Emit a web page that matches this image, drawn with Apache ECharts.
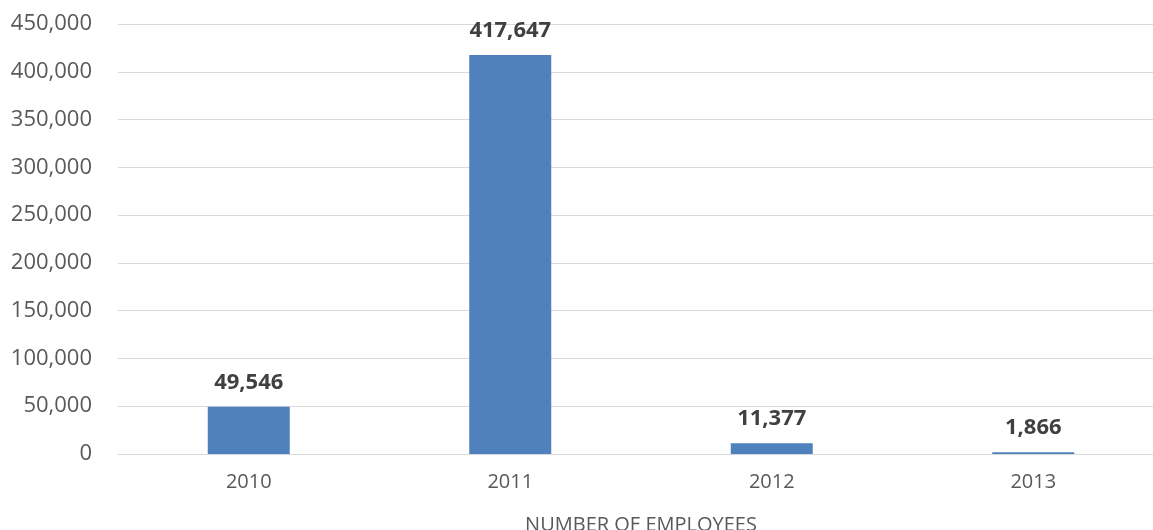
<!DOCTYPE html>
<html>
<head>
<meta charset="utf-8">
<script src="https://cdn.jsdelivr.net/npm/echarts@6/dist/echarts.min.js"></script>
<style>
  html, body { margin: 0; padding: 0; background: #fff; }
  #chart { width: 1153px; height: 530px; }
</style>
</head>
<body>
<div id="chart"></div>
<script>
// values
var years = ['2010', '2011', '2012', '2013']
var employees = [49546, 417647, 11377, 1866]

var fmt = function (v) { return v.toLocaleString('en-US') }

var myChart = echarts.init(document.getElementById('chart'))

var option = {
  backgroundColor: '#fff',
  animation: false,
  grid: {
    left: 118,
    top: 24,
    width: 1046,
    height: 430,
    containLabel: false,
    outerBoundsMode: 'none'
  },
  xAxis: {
    type: 'category',
    data: years,
    name: 'NUMBER OF EMPLOYEES',
    nameLocation: 'middle',
    nameGap: 61,
    nameTextStyle: {
      color: '#595959',
      fontSize: 20,
      fontFamily: 'Open Sans'
    },
    axisLine: { show: false },
    axisTick: { show: false },
    axisLabel: {
      color: '#595959',
      fontSize: 20,
      fontFamily: 'Open Sans',
      margin: 18
    }
  },
  yAxis: {
    type: 'value',
    min: 0,
    max: 450000,
    interval: 50000,
    axisLine: { show: false },
    axisTick: { show: false },
    axisLabel: {
      color: '#595959',
      fontSize: 22,
      fontFamily: 'Open Sans',
      margin: 26,
      formatter: fmt
    },
    splitLine: {
      lineStyle: { color: '#d9d9d9', width: 1 }
    }
  },
  series: [
    {
      type: 'bar',
      data: employees,
      barWidth: 82,
      itemStyle: { color: '#4f81bd' },
      label: {
        show: true,
        position: 'top',
        distance: 13,
        color: '#404040',
        fontSize: 22,
        fontWeight: 'bold',
        fontFamily: 'Open Sans',
        formatter: function (p) { return fmt(p.value) }
      }
    }
  ]
}

myChart.setOption(option)
</script>
</body>
</html>
